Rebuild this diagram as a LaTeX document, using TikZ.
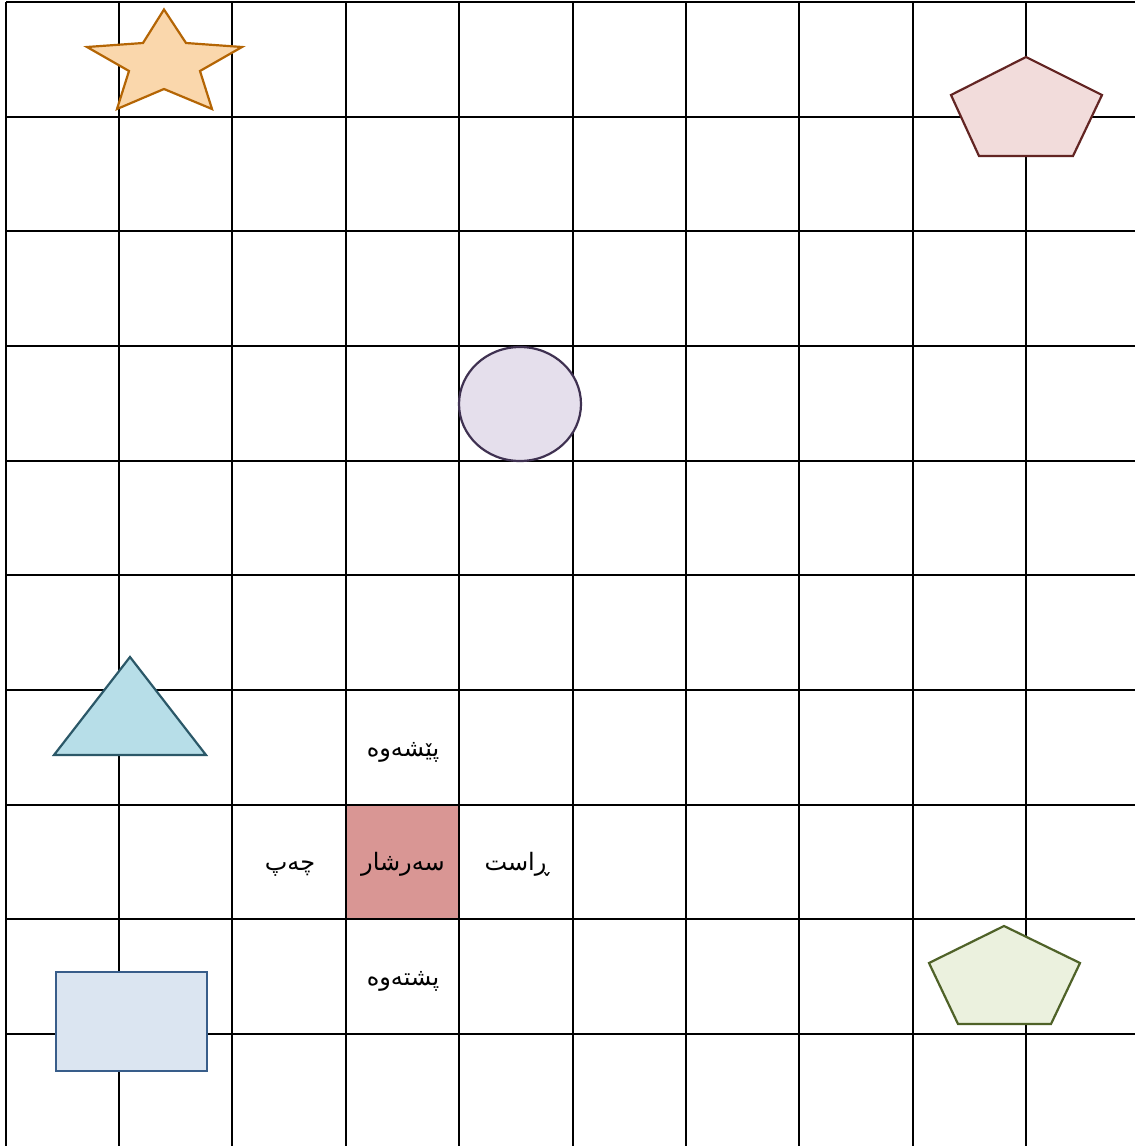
\documentclass[tikz,border=0pt]{standalone}
\usepackage{fontspec}
\newfontfamily\arabicfont[Script=Arabic]{DejaVu Sans}
\TeXXeTstate=1
\definecolor{starfill}{HTML}{FAD7AC}
\definecolor{starline}{HTML}{B46504}
\definecolor{pinkfill}{HTML}{F2DCDB}
\definecolor{pinkline}{HTML}{632523}
\definecolor{purpfill}{HTML}{E5DFEC}
\definecolor{purpline}{HTML}{3F3151}
\definecolor{trifill}{HTML}{B7DEE8}
\definecolor{triline}{HTML}{2B5868}
\definecolor{rectfill}{HTML}{DBE5F1}
\definecolor{rectline}{HTML}{385D8A}
\definecolor{greenfill}{HTML}{EBF1DE}
\definecolor{greenline}{HTML}{4F6228}
\definecolor{cellred}{HTML}{D99694}
\tikzset{
  gridline/.style={line width=2.2pt, black},
  shapeline/.style={line width=2.2pt, line join=miter},
  label/.style={inner sep=0pt, anchor=base, font=\arabicfont\fontsize{24}{29}\selectfont}
}
\begin{document}
\begin{tikzpicture}[x=1pt,y=-1pt]
\useasboundingbox (0,0) rectangle (1135,1146);
\fill[white] (0,0) rectangle (1135,1146);
% highlighted cell
\fill[cellred] (346,805) rectangle (459,919);
% grid
\foreach \x in {6,119,232,346,459,573,686,799,913,1026}
  \draw[gridline] (\x,2) -- (\x,1146);
\foreach \y in {2,117,231,346,461,575,690,805,919,1034}
  \draw[gridline] (6,\y) -- (1135,\y);
% star
\draw[shapeline, fill=starfill, draw=starline]
  (164,9.5) -- (186,43) -- (242,47) -- (200,71) -- (212,109) -- (164,89)
  -- (117,109) -- (129,71) -- (87,47) -- (143,43) -- cycle;
% top-right pentagon
\draw[shapeline, fill=pinkfill, draw=pinkline]
  (1026,57) -- (1102,95) -- (1073,156) -- (979,156) -- (951,95) -- cycle;
% circle
\draw[shapeline, fill=purpfill, draw=purpline] (520,404) ellipse [x radius=61, y radius=57];
% triangle
\draw[shapeline, fill=trifill, draw=triline]
  (130,657) -- (206,755) -- (54,755) -- cycle;
% rectangle
\draw[shapeline, fill=rectfill, draw=rectline] (56,972) rectangle (207,1071);
% bottom-right pentagon
\draw[shapeline, fill=greenfill, draw=greenline]
  (1004,926) -- (1080,963) -- (1051,1024) -- (958,1024) -- (929,963) -- cycle;
% labels
\node[label] (front) at (403,756) {\beginR پێشەوە\endR};
\node[label] (left) at (290,870) {\beginR چەپ\endR};
\node[label] (centre) at (403,870) {\beginR سەرشار\endR};
\node[label] (right) at (517,870) {\beginR ڕاست\endR};
\node[label] (back) at (403,985) {\beginR پشتەوە\endR};
\end{tikzpicture}
\end{document}
